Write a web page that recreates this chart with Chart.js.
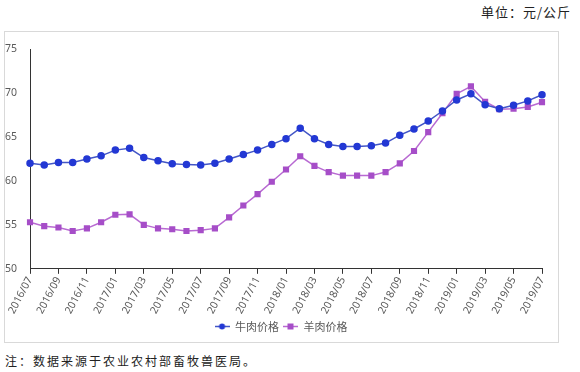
<!DOCTYPE html>
<html>
<head>
<meta charset="utf-8">
<script src="https://cdn.jsdelivr.net/npm/chart.js@4.4.0/dist/chart.umd.min.js"></script>
<style>
  body { margin: 0; background: #fff; width: 580px; height: 372px; position: relative; overflow: hidden;
         font-family: "Noto Sans CJK SC", "Noto Sans", sans-serif; }
  #unit { position: absolute; right: 9px; top: 2px; font-size: 13px; color: #222; letter-spacing: 1px; }
  #box { position: absolute; left: 4px; top: 31px; width: 553px; height: 310px; border: 1px solid #d9d9d9; }
  #chart { position: absolute; left: 0px; top: 32px; }
  #note { position: absolute; left: 5px; top: 352px; font-size: 12px; color: #222; letter-spacing: 2px; }
</style>
</head>
<body>
<div id="unit">单位：元/公斤</div>
<div id="box"></div>
<canvas id="chart" width="558" height="310"></canvas>
<div id="note">注：数据来源于农业农村部畜牧兽医局。</div>
<script>
var months = ["2016/07", "2016/08", "2016/09", "2016/10", "2016/11", "2016/12",
  "2017/01", "2017/02", "2017/03", "2017/04", "2017/05", "2017/06",
  "2017/07", "2017/08", "2017/09", "2017/10", "2017/11", "2017/12",
  "2018/01", "2018/02", "2018/03", "2018/04", "2018/05", "2018/06",
  "2018/07", "2018/08", "2018/09", "2018/10", "2018/11", "2018/12",
  "2019/01", "2019/02", "2019/03", "2019/04", "2019/05", "2019/06", "2019/07"];

// 牛肉价格 (元/公斤)
var beef = [62.0, 61.8, 62.1, 62.1, 62.5, 62.85, 63.5, 63.7, 62.65, 62.3, 61.95, 61.85,
  61.8, 62.0, 62.5, 63.0, 63.5, 64.15, 64.8, 66.0, 64.8, 64.15, 63.9, 63.9,
  64.0, 64.3, 65.2, 65.9, 66.8, 67.95, 69.2, 69.9, 68.65, 68.2, 68.6, 69.1, 69.8];

// 羊肉价格 (元/公斤)
var mutton = [55.3, 54.85, 54.7, 54.3, 54.6, 55.3, 56.15, 56.2, 55.0, 54.6, 54.5, 54.3,
  54.4, 54.6, 55.85, 57.2, 58.5, 59.9, 61.3, 62.8, 61.7, 61.0, 60.6, 60.6,
  60.6, 61.0, 62.0, 63.4, 65.55, 67.7, 69.9, 70.75, 69.0, 68.15, 68.2, 68.4, 68.95];

var yTicks = [50, 55, 60, 65, 70, 75];

var beefLine = "#4356c6", beefDot = "#2338d4";
var muttonLine = "#b86ad2", muttonDot = "#a64ec8";

// small legend icon: line with marker in the middle
function legendIcon(lineCol, dotCol, square) {
  var c = document.createElement("canvas");
  c.width = 15; c.height = 9;
  var g = c.getContext("2d");
  g.strokeStyle = lineCol;
  g.lineWidth = 1.5;
  g.beginPath(); g.moveTo(0, 4.5); g.lineTo(15, 4.5); g.stroke();
  g.fillStyle = dotCol;
  if (square) {
    g.fillRect(4.5, 1.5, 6, 6);
  } else {
    g.beginPath(); g.arc(7.5, 4.5, 3, 0, Math.PI * 2); g.fill();
  }
  return c;
}
var icons = [legendIcon(beefLine, beefDot, false), legendIcon(muttonLine, muttonDot, true)];

var tickFont = { family: "'Noto Sans', 'Noto Sans CJK SC', sans-serif", size: 10.5 };

// the legend in the original sits a little right of centre
var legendShift = {
  id: "legendShift",
  afterLayout: function (chart) {
    chart.legend.left += 10;
    chart.legend.right += 10;
  }
};

new Chart(document.getElementById("chart"), {
  type: "line",
  data: {
    labels: months,
    datasets: [{
      label: "牛肉价格",
      data: beef,
      borderColor: beefLine,
      backgroundColor: beefDot,
      pointBackgroundColor: beefDot,
      pointBorderColor: beefDot,
      borderWidth: 1.5,
      pointRadius: 3,
      pointStyle: "circle",
      tension: 0
    }, {
      label: "羊肉价格",
      data: mutton,
      borderColor: muttonLine,
      backgroundColor: muttonDot,
      pointBackgroundColor: muttonDot,
      pointBorderColor: muttonDot,
      borderWidth: 1.5,
      pointRadius: 3.3,
      pointStyle: "rect",
      tension: 0
    }]
  },
  plugins: [legendShift],
  options: {
    responsive: false,
    animation: false,
    layout: { padding: { left: 0, right: 16, top: 17, bottom: 0 } },
    plugins: {
      tooltip: { enabled: false },
      legend: {
        position: "bottom",
        labels: {
          usePointStyle: true,
          pointStyleWidth: 15,
          boxHeight: 9,
          color: "#595959",
          font: { family: "'Noto Sans CJK SC', sans-serif", size: 11 },
          padding: 4,
          generateLabels: function (chart) {
            return chart.data.datasets.map(function (ds, i) {
              return { text: ds.label, pointStyle: icons[i], fontColor: "#595959",
                       lineWidth: 0, strokeStyle: "transparent", fillStyle: "transparent", datasetIndex: i };
            });
          }
        }
      }
    },
    scales: {
      x: {
        offset: false,
        grid: { display: true, drawOnChartArea: false, drawTicks: true, tickLength: 5, color: "#333" },
        border: { display: true, color: "#333", width: 1 },
        ticks: {
          autoSkip: false,
          minRotation: 62,
          maxRotation: 62,
          color: "#595959",
          font: tickFont,
          padding: 1,
          callback: function (v, i) { return i % 2 === 0 ? months[i] : null; }
        }
      },
      y: {
        min: 50,
        max: 75,
        afterBuildTicks: function (axis) { axis.ticks = yTicks.map(function (v) { return { value: v }; }); },
        grid: { display: false },
        border: { display: true, color: "#333", width: 1 },
        ticks: { color: "#595959", font: tickFont, padding: 5 }
      }
    }
  }
});
</script>
</body>
</html>
